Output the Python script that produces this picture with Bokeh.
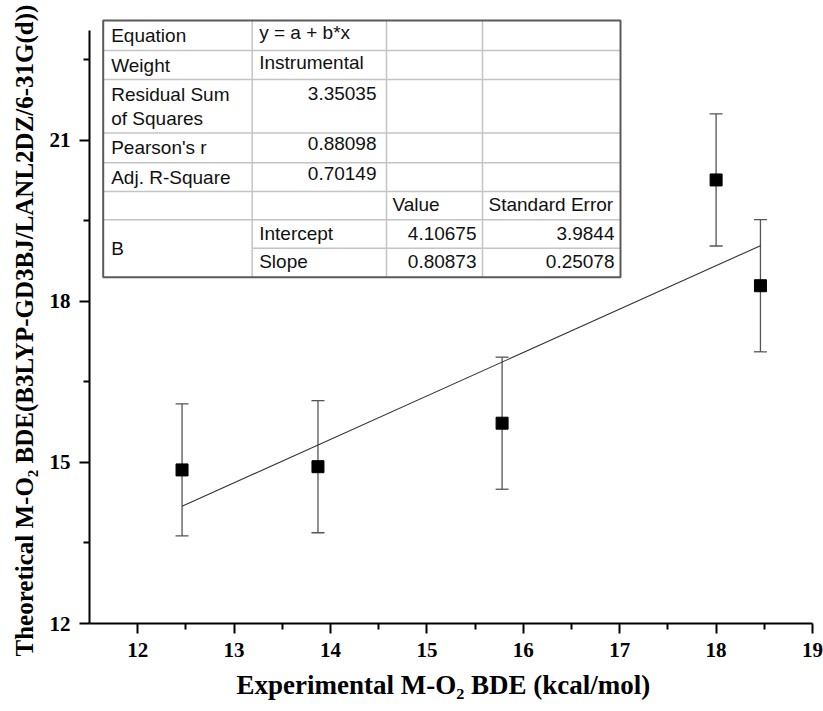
from bokeh.plotting import figure
from bokeh.models import ColumnDataSource, Whisker, TeeHead, FixedTicker, Range1d, Title
from bokeh.core.properties import value
from bokeh.embed import file_html
from bokeh.resources import INLINE

# ---------------- data ----------------
exp_bde = [12.46, 13.87, 15.78, 18.00, 18.46]      # experimental M-O2 BDE (kcal/mol)
theo_bde = [14.86, 14.92, 15.73, 20.26, 18.29]     # theoretical BDE
theo_err = [1.23, 1.23, 1.23, 1.23, 1.23]          # error bars

fit_intercept = 4.10675
fit_slope = 0.80873

x_ticks = [12, 13, 14, 15, 16, 17, 18, 19]
y_ticks = [12, 15, 18, 21]

x_title = "Experimental M-O\u2082 BDE (kcal/mol)"
y_title = "Theoretical M-O\u2082 BDE(B3LYP-GD3BJ/LANL2DZ/6-31G(d))"

table_col1 = ["Equation", "Weight", "Residual Sum\nof Squares", "Pearson's r", "Adj. R-Square", "", "B", ""]
table_col2 = ["y = a + b*x", "Instrumental", "3.35035", "0.88098", "0.70149", "", "Intercept", "Slope"]
table_col3 = ["", "", "", "", "", "Value", "4.10675", "0.80873"]
table_col4 = ["", "", "", "", "", "Standard Error", "3.9844", "0.25078"]

# ---------------- layout (canvas pixels) ----------------
W, H = 823, 711
FL, FR = 89, 812          # frame left / right
FT, FB = 18, 623          # frame top / bottom
X0, X1 = 11.5, 19.0
PX_PER_Y = 53.7
Y0 = 12.0
Y1 = Y0 + (FB - FT) / PX_PER_Y


def dx(px):
    return X0 + (px - FL) * (X1 - X0) / (FR - FL)


def dy(py):
    return Y0 + (FB - py) / PX_PER_Y


p = figure(width=W, height=H, output_backend="svg", toolbar_location=None,
           x_range=Range1d(X0, X1), y_range=Range1d(Y0, Y1),
           min_border_left=FL, min_border_right=W - FR,
           min_border_top=FT, min_border_bottom=H - FB,
           background_fill_color="white", border_fill_color="white")
p.outline_line_color = None
p.grid.visible = False

serif = "Liberation Serif"
for ax in (p.xaxis[0], p.yaxis[0]):
    ax.axis_line_width = 2
    ax.axis_line_color = "black"
    ax.major_tick_line_width = 2
    ax.minor_tick_line_width = 2
    ax.major_tick_in = 0
    ax.major_tick_out = 10
    ax.minor_tick_in = 0
    ax.minor_tick_out = 6
    ax.major_label_text_font = serif
    ax.major_label_text_font_style = "bold"
    ax.major_label_text_font_size = "21px"
    ax.major_label_text_color = "black"

p.xaxis.ticker = FixedTicker(ticks=x_ticks, minor_ticks=[t + 0.5 for t in x_ticks[:-1]])
p.yaxis.ticker = FixedTicker(ticks=y_ticks, minor_ticks=[t + 1.5 for t in y_ticks])
p.xaxis.bounds = (X0, X1)
p.yaxis.bounds = (Y0, dy(30))
p.xaxis.major_label_standoff = 9
p.yaxis.major_label_standoff = 9

# axis titles as side-panel titles (start-aligned, shifted by offset)
p.add_layout(Title(text=x_title, align="left", offset=147, standoff=16,
                   text_font=serif, text_font_style="bold", text_font_size="27px",
                   text_color="black"), "below")
p.add_layout(Title(text=y_title, align="left", offset=-33, standoff=17,
                   text_font=serif, text_font_style="bold", text_font_size="25px",
                   text_color="black"), "left")

# ---------------- fit line ----------------
fx = [exp_bde[0], exp_bde[-1]]
fy = [fit_intercept + fit_slope * v for v in fx]
p.line(fx, fy, line_color="#333333", line_width=1.1)

# ---------------- error bars + points ----------------
src = ColumnDataSource(dict(
    x=exp_bde, y=theo_bde,
    upper=[a + e for a, e in zip(theo_bde, theo_err)],
    lower=[a - e for a, e in zip(theo_bde, theo_err)]))
p.add_layout(Whisker(source=src, base="x", upper="upper", lower="lower",
                     line_color="#555555", line_width=1.3,
                     upper_head=TeeHead(size=13, line_color="#555555", line_width=1.3),
                     lower_head=TeeHead(size=13, line_color="#555555", line_width=1.3)))
p.scatter("x", "y", source=src, marker="square", size=12, fill_color="black", line_color="black")

# ---------------- statistics table ----------------
tl, tr = 102.7, 620.0
cols = [tl, 251.7, 386.0, 482.0, tr]
rows = [20.0, 50.0, 79.0, 132.5, 162.3, 191.0, 219.3, 247.7, 276.7]

p.quad(left=dx(tl), right=dx(tr), top=dy(rows[0]), bottom=dy(rows[-1]),
       fill_color="white", line_color=None)
hx0, hx1, hy = [], [], []
for i, r in enumerate(rows[1:-1], start=1):
    start = cols[1] if i == 7 else tl
    hx0.append(dx(start)); hx1.append(dx(tr)); hy.append(dy(r))
p.segment(x0=hx0, y0=hy, x1=hx1, y1=hy, line_color="#c4c4c4", line_width=1.5)
vx = [dx(c) for c in cols[1:-1]]
p.segment(x0=vx, y0=[dy(rows[0])] * 3, x1=vx, y1=[dy(rows[-1])] * 3,
          line_color="#c4c4c4", line_width=1.5)
p.quad(left=dx(tl), right=dx(tr), top=dy(rows[0]), bottom=dy(rows[-1]),
       fill_color=None, line_color="#5a5a5a", line_width=2)

tx, ty, tt, ta = [], [], [], []
for i in range(8):
    rc = (rows[i] + rows[i + 1]) / 2
    if table_col1[i]:
        yc = (rows[6] + rows[8]) / 2 if i == 6 else rc
        tx.append(dx(tl + 8)); ty.append(dy(yc)); tt.append(table_col1[i]); ta.append("left")
    if table_col2[i]:
        s = table_col2[i]
        if s[0].isdigit():
            yc = rows[i] + 14 if i == 2 else rc - 4
            tx.append(dx(cols[2] - 10)); ty.append(dy(yc)); tt.append(s); ta.append("right")
        else:
            yc = rc - 3 if i < 2 else rc - 1
            tx.append(dx(cols[1] + 7)); ty.append(dy(yc)); tt.append(s); ta.append("left")
    if table_col3[i]:
        s = table_col3[i]
        if s[0].isdigit():
            tx.append(dx(cols[3] - 6)); ta.append("right")
        else:
            tx.append(dx(cols[2] + 6)); ta.append("left")
        ty.append(dy(rc - 1)); tt.append(s)
    if table_col4[i]:
        s = table_col4[i]
        if s[0].isdigit():
            tx.append(dx(tr - 6)); ta.append("right")
        else:
            tx.append(dx(cols[3] + 6)); ta.append("left")
        ty.append(dy(rc - 1)); tt.append(s)

tsrc = ColumnDataSource(dict(x=tx, y=ty, text=tt, align=ta))
p.text(x="x", y="y", text="text", source=tsrc, text_align="align",
       text_baseline="middle", text_font=value("Liberation Sans"),
       text_font_size="19px", text_color="#111111", text_line_height=1.15)

open("out.html", "w").write(file_html(p, INLINE))
